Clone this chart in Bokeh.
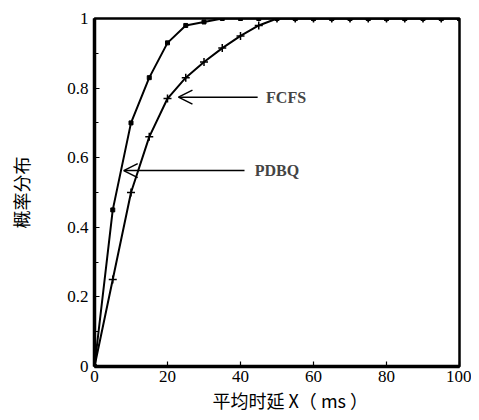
from bokeh.plotting import figure
from bokeh.models import Range1d, Label, Arrow, OpenHead, FixedTicker, Title
from bokeh.embed import file_html
from bokeh.resources import INLINE

# data
x_vals = [0, 5, 10, 15, 20, 25, 30, 35, 40, 45, 50, 55, 60, 65, 70, 75, 80, 85, 90, 95, 100]
pdbq = [0, 0.45, 0.70, 0.83, 0.93, 0.98, 0.99, 1.0, 1.0, 1.0, 1.0, 1.0, 1.0, 1.0, 1.0, 1.0, 1.0, 1.0, 1.0, 1.0, 1.0]
fcfs = [0, 0.25, 0.50, 0.66, 0.77, 0.83, 0.875, 0.915, 0.95, 0.98, 1.0, 1.0, 1.0, 1.0, 1.0, 1.0, 1.0, 1.0, 1.0, 1.0, 1.0]
x_ticks = [0, 20, 40, 60, 80, 100]
y_ticks = [0, 0.2, 0.4, 0.6, 0.8, 1.0]
y_tick_labels = {0: "0", 0.2: "0.2", 0.4: "0.4", 0.6: "0.6", 0.8: "0.8", 1.0: "1"}
x_label = "平均时延 X（ ms ）"
y_label = "概率分布"
series_names = ["FCFS", "PDBQ"]

SERIF = "Liberation Serif"
CJK = "Noto Sans CJK SC"

p = figure(width=471, height=412, output_backend="svg", toolbar_location=None,
           x_range=Range1d(0, 100), y_range=Range1d(0, 1),
           min_border_left=94, min_border_right=12, min_border_top=18, min_border_bottom=44)
p.grid.visible = False
p.background_fill_color = "white"
p.border_fill_color = "white"
p.outline_line_color = "black"
p.outline_line_width = 2.5

p.xaxis.ticker = FixedTicker(ticks=x_ticks)
p.yaxis.ticker = FixedTicker(ticks=y_ticks, minor_ticks=[0.1, 0.3, 0.5, 0.7, 0.9])
p.yaxis.major_label_overrides = y_tick_labels
for ax in (p.xaxis[0], p.yaxis[0]):
    ax.axis_line_width = 3.5
    ax.axis_line_color = "black"
    ax.major_tick_in = 5
    ax.major_tick_out = 0
    ax.major_tick_line_width = 1.2
    ax.major_label_text_font = SERIF
    ax.major_label_text_font_size = "17px"
    ax.major_label_text_color = "black"
p.xaxis.minor_tick_line_color = None
p.yaxis.minor_tick_in = 4
p.yaxis.minor_tick_out = 0
p.xaxis.major_label_standoff = 4
p.yaxis.major_label_standoff = 6

p.yaxis.axis_label = y_label
p.yaxis.axis_label_text_font = CJK
p.yaxis.axis_label_text_font_size = "18px"
p.yaxis.axis_label_text_font_style = "normal"
p.yaxis.axis_label_text_color = "black"
p.yaxis.axis_label_standoff = 30

p.add_layout(Title(text=x_label, align="left", offset=118, text_font=CJK,
                   text_font_size="18px", text_font_style="normal",
                   text_color="black", standoff=0), "below")

# curves
p.line(x_vals, fcfs, line_color="black", line_width=2)
p.scatter(x_vals, fcfs, marker="cross", size=8, line_color="black", line_width=1.5)
p.line(x_vals, pdbq, line_color="black", line_width=2)
p.scatter(x_vals, pdbq, marker="square", size=4, line_color="black", fill_color="black")
p.scatter(x_vals[10:], pdbq[10:], marker="circle", size=5, line_color="black", fill_color="black")

# annotations
p.add_layout(Arrow(end=OpenHead(size=14, line_width=1.5, line_color="black"),
                   x_start=44.7, y_start=0.774, x_end=23.0, y_end=0.774,
                   line_width=1.5, line_color="black"))
p.add_layout(Arrow(end=OpenHead(size=14, line_width=1.5, line_color="black"),
                   x_start=41.1, y_start=0.563, x_end=8.0, y_end=0.563,
                   line_width=1.5, line_color="black"))
p.add_layout(Label(x=47.0, y=0.774, text=series_names[0], text_font=SERIF,
                   text_font_size="16px", text_font_style="bold",
                   text_baseline="middle", text_align="left"))
p.add_layout(Label(x=43.9, y=0.563, text=series_names[1], text_font=SERIF,
                   text_font_size="16px", text_font_style="bold",
                   text_baseline="middle", text_align="left"))

open("out.html", "w").write(file_html(p, INLINE))
